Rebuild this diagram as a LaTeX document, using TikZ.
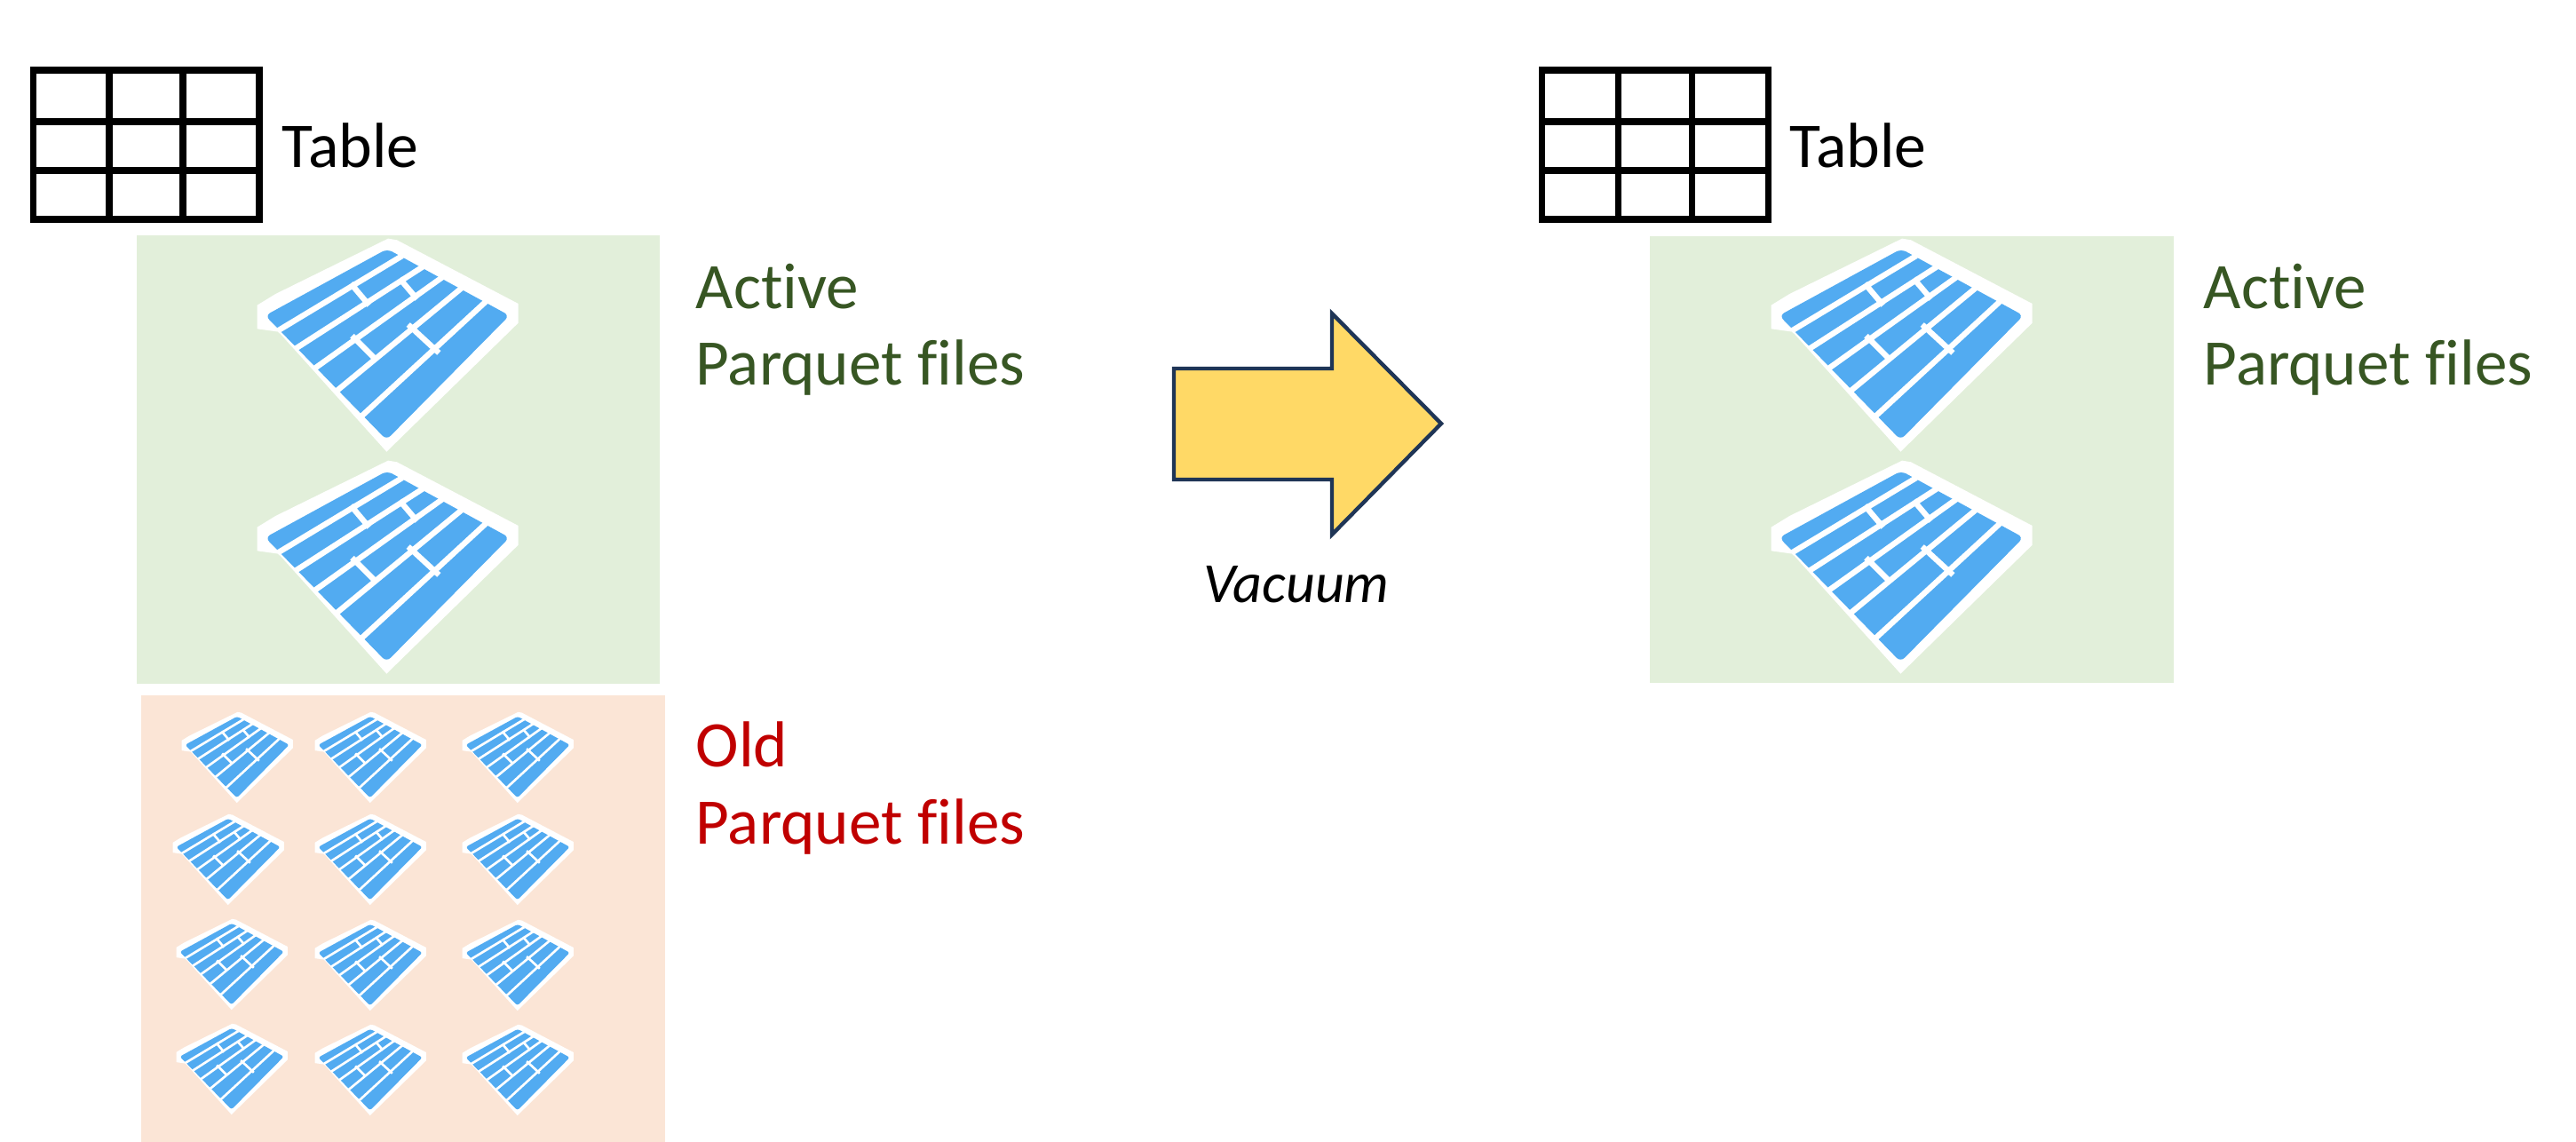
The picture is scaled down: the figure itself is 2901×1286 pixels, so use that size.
\documentclass[tikz,border=0pt]{standalone}
\usepackage{fontspec}
\setmainfont[Ligatures=CommonOff]{Carlito}
\definecolor{activefill}{HTML}{E2EFDA}
\definecolor{oldfill}{HTML}{FBE5D6}
\definecolor{activetext}{HTML}{375623}
\definecolor{oldtext}{HTML}{C00000}
\definecolor{brickblue}{HTML}{52ABF1}
\definecolor{arrowfill}{HTML}{FFD966}
\definecolor{arrowline}{HTML}{1F3556}
\tikzset{
    label/.style={anchor=base west,inner sep=0pt,align=left,font=\fontsize{20.8}{24.7}\selectfont},
    tablelabel/.style={anchor=base west,inner sep=0pt,font=\fontsize{20.4}{24}\selectfont},
    pics/parquet/.style={code={
        \fill[white] (-439,-100) -- (-377,-138) -- (3,-325) -- (33,-320) -- (443,-105) -- (443,-40) -- (-2,395) -- (-367,-10) -- (-439,-20) -- cycle;
        \fill[brickblue,rounded corners=#1] (-412,-65) -- (0,-290) -- (413,-65) -- (-2,355) -- cycle;
        \draw[white,line width=#1,line cap=rect]
            (-362,-18) -- (43,-262)
            (-302,42) -- (113,-225)
            (-237,108) -- (183,-192)
            (-165,185) -- (248,-155)
            (-79,268) -- (331,-110)
            (-117,-166) -- (-67,-107)
            (48,-183) -- (95,-128)
            (-112,10) -- (-42,80)
            (78,-28) -- (168,55);
    }},
    tablegrid/.pic={
        \draw[line width=2pt] (0,0) rectangle (254.5,168);
        \draw[line width=2pt] (85.5,0) -- (85.5,168) (168.5,0) -- (168.5,168);
        \draw[line width=2pt] (0,58) -- (254.5,58) (0,113) -- (254.5,113);
    }
}
\begin{document}
\begin{tikzpicture}[x=0.01cm,y=-0.01cm]
    \useasboundingbox (0,0) rectangle (2901,1286);

    % left side
    \fill[activefill] (154,265) rectangle (743,770);
    \fill[oldfill] (159,783) rectangle (749,1286);
    \pic at (37.5,79) {tablegrid};
    \node[tablelabel] (tableA) at (317,189) {Table};
    \pic[scale=1/3] at (436,377) {parquet=1.8pt};
    \pic[scale=1/3] at (436,627) {parquet=1.8pt};
    \node[label,text=activetext] (activeA) at (783,434) {Active\\Parquet files};
    \node[label,text=oldtext] (oldA) at (783,950) {Old\\Parquet files};

    % old files
    \foreach \px/\py in {267/848,417/848,583/848,
                         257/963,417/963,583/963,
                         261/1081,417/1082,583/1082,
                         261/1199,417/1200,583/1200}{
        \pic[scale=0.142] at (\px,\py) {parquet=0.75pt};
    }

    % the arrow
    \draw[line width=1.25pt,fill=arrowfill,draw=arrowline,line join=miter]
        (1322,415) -- (1500,415) -- (1500,353) -- (1623,477) -- (1500,602) -- (1500,540) -- (1322,540) -- cycle;
    \node[anchor=base,inner sep=0pt,font=\fontsize{18.2}{20}\selectfont\itshape] (vacuum) at (1460,679) {Vacuum};

    % right side
    \fill[activefill] (1858,266) rectangle (2448,769);
    \pic at (1736.5,79) {tablegrid};
    \node[tablelabel] (tableB) at (2015,189) {Table};
    \pic[scale=1/3] at (2141,377) {parquet=1.8pt};
    \pic[scale=1/3] at (2141,627) {parquet=1.8pt};
    \node[label,text=activetext] (activeB) at (2481,434) {Active\\Parquet files};
\end{tikzpicture}
\end{document}
